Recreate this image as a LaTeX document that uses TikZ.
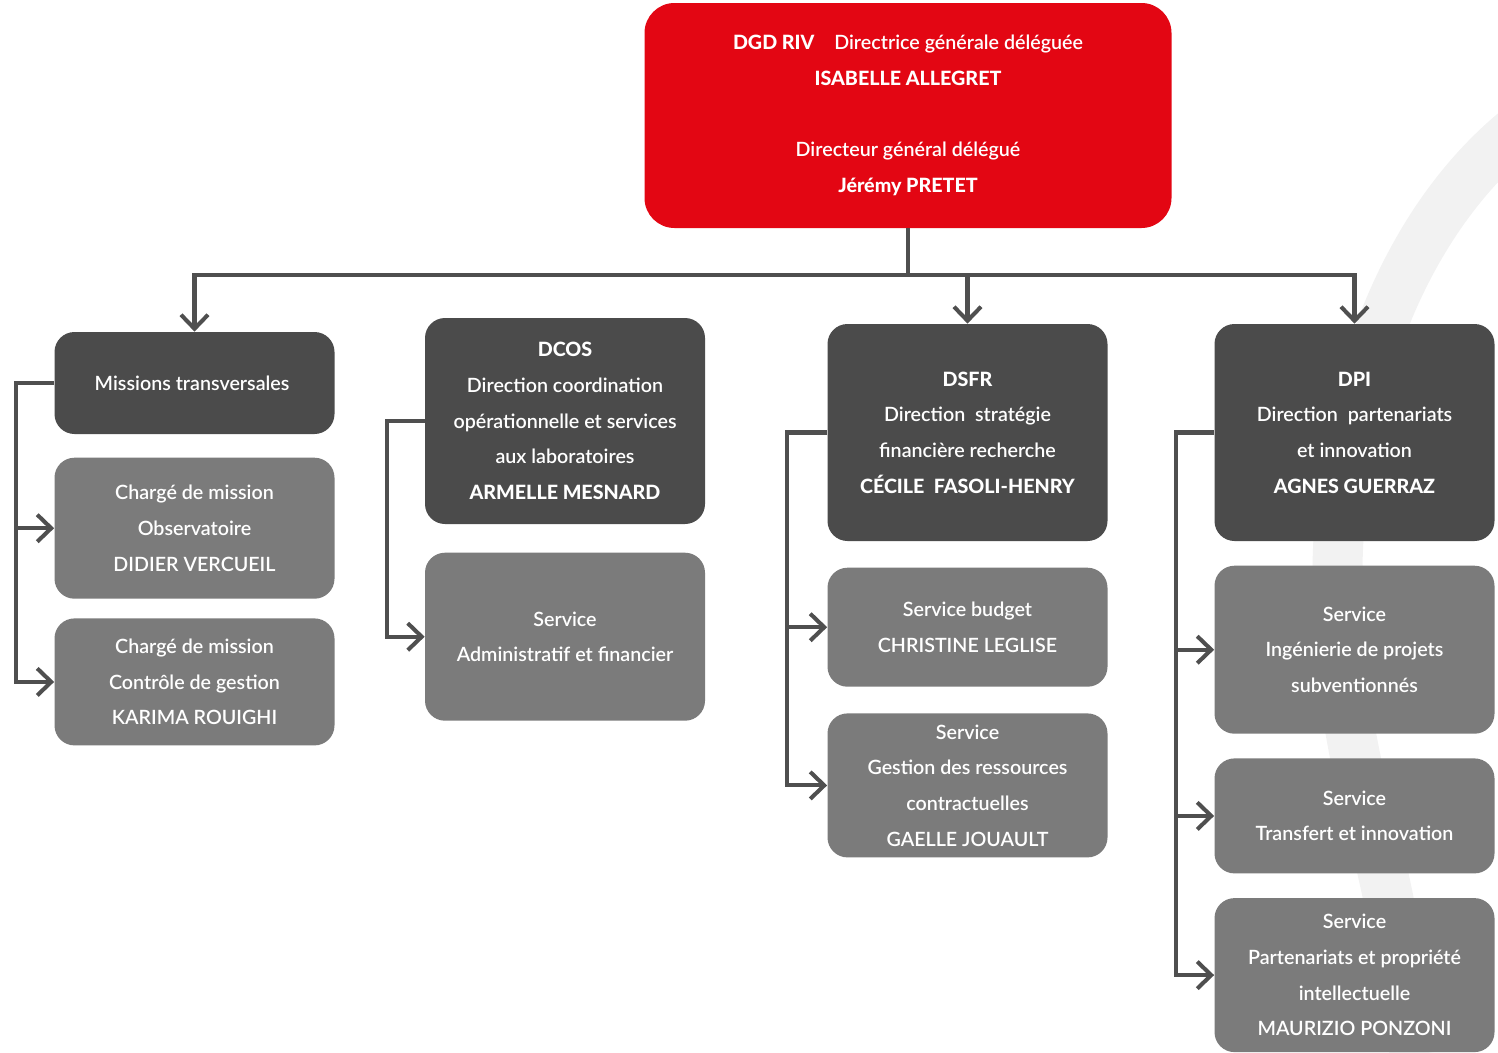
\documentclass[tikz,border=0pt]{standalone}
\usepackage{fontspec}
\setmainfont{Lato}[UprightFont=* Semibold, BoldFont=* Heavy]
\usetikzlibrary{positioning,arrows.meta}
\definecolor{rouge}{HTML}{E30613}
\definecolor{grisfonce}{HTML}{4B4B4B}
\definecolor{grisclair}{HTML}{7B7B7B}
\definecolor{trait}{HTML}{4F4F4F}
\newcommand{\nom}[1]{\textbf{#1}}

\begin{document}
\begin{tikzpicture}[
    every node/.style={
        minimum width=5.6cm,
        inner sep=0pt,
        align=center,
        text=white,
        rounded corners=4mm,
        font=\fontsize{11.2}{20.3}\selectfont
      },
    direction/.style={fill=grisfonce},
    service/.style={fill=grisclair},
    lien/.style={line width=2.3pt, draw=trait},
    fleche/.style={lien, -{Straight Barb[length=2.8mm,width=5.4mm]}},
    node distance=4.8mm
    ]

    \useasboundingbox (0,0) rectangle (29.96,-21.04);

    % filigrane
    \draw[line width=1cm, black!5] (30.6,-2.4) .. controls (27.5,-4.7) and (25.8,-10) .. (27.3,-16)
        .. controls (27.8,-18) .. (28.3,-21.1);

    % ============= DIRECTION GENERALE ==================

    % -------------------------------
    \node[fill=rouge, minimum width=10.54cm, minimum height=4.5cm, rounded corners=6mm] (DG) at (18.16,-2.31) {
      \nom{DGD RIV}\quad Directrice générale déléguée\\
      \nom{ISABELLE ALLEGRET}\\[20.3pt]
      Directeur général délégué\\
      \nom{Jérémy PRETET}
    };
    % -------------------------------


    % ============= MISSIONS TRANSVERSALES ==================

    % -------------------------------
    \node[direction, minimum height=2.04cm] (MT) at (3.89,-7.66) {
      Missions transversales
    };
    % -------------------------------

    % -------------------------------
    \node[service, minimum height=2.82cm, below=4.6mm of MT] (OBS) {
      Chargé de mission\\
      Observatoire\\
      DIDIER VERCUEIL
    };
    % -------------------------------

    % -------------------------------
    \node[service, minimum height=2.54cm, below=3.8mm of OBS] (CG) {
      Chargé de mission\\
      Contrôle de gestion\\
      KARIMA ROUIGHI
    };
    % -------------------------------


    % ============= DCOS ==================

    % -------------------------------
    \node[direction, minimum height=4.12cm] (DCOS) at (11.3,-8.42) {
      \nom{DCOS}\\
      Direction coordination\\
      opérationnelle et services\\
      aux laboratoires\\
      \nom{ARMELLE MESNARD}
    };
    % -------------------------------

    % -------------------------------
    \node[service, minimum height=3.36cm, below=5.6mm of DCOS] (SAF) {
      Service\\
      Administratif et financier
    };
    % -------------------------------


    % ============= DSFR ==================

    % -------------------------------
    \node[direction, minimum height=4.34cm] (DSFR) at (19.35,-8.65) {
      \nom{DSFR}\\
      Direction\ \ stratégie\\
      financière recherche\\
      \nom{CÉCILE\ \ FASOLI-HENRY}
    };
    % -------------------------------

    % -------------------------------
    \node[service, minimum height=2.38cm, below=5.2mm of DSFR] (SB) {
      Service budget\\
      CHRISTINE LEGLISE
    };
    % -------------------------------

    % -------------------------------
    \node[service, minimum height=2.88cm, below=5.2mm of SB] (SGRC) {
      Service\\
      Gestion des ressources\\
      contractuelles\\
      GAELLE JOUAULT
    };
    % -------------------------------


    % ============= DPI ==================

    % -------------------------------
    \node[direction, minimum height=4.34cm] (DPI) at (27.09,-8.65) {
      \nom{DPI}\\
      Direction\ \ partenariats\\
      et innovation\\
      \nom{AGNES GUERRAZ}
    };
    % -------------------------------

    % -------------------------------
    \node[service, minimum height=3.36cm, below=of DPI] (SIPS) {
      Service\\
      Ingénierie de projets\\
      subventionnés
    };
    % -------------------------------

    % -------------------------------
    \node[service, minimum height=2.3cm, below=of SIPS] (STI) {
      Service\\
      Transfert et innovation
    };
    % -------------------------------

    % -------------------------------
    \node[service, minimum height=3.08cm, below=of STI] (SPPI) {
      Service\\
      Partenariats et propriété\\
      intellectuelle\\
      MAURIZIO PONZONI
    };
    % -------------------------------


    % ============= LIGNES ==================
    \coordinate (B) at (18.16,-5.5);
    \draw[lien] (DG) -- (B);
    \draw[fleche] (B) -| (MT);
    \draw[fleche] (B) -| (DSFR);
    \draw[fleche] (B) -| (DPI);

    \draw[fleche] (MT.west) -- ++(-7.6mm,0) |- (OBS);
    \draw[fleche] (MT.west) -- ++(-7.6mm,0) |- (CG);

    \draw[fleche] (DCOS.west) -- ++(-7.6mm,0) |- (SAF);

    \draw[fleche] (DSFR.west) -- ++(-8mm,0) |- (SB);
    \draw[fleche] (DSFR.west) -- ++(-8mm,0) |- (SGRC);

    \draw[fleche] (DPI.west) -- ++(-7.6mm,0) |- (SIPS);
    \draw[fleche] (DPI.west) -- ++(-7.6mm,0) |- (STI);
    \draw[fleche] (DPI.west) -- ++(-7.6mm,0) |- (SPPI);

  \end{tikzpicture}
\end{document}
